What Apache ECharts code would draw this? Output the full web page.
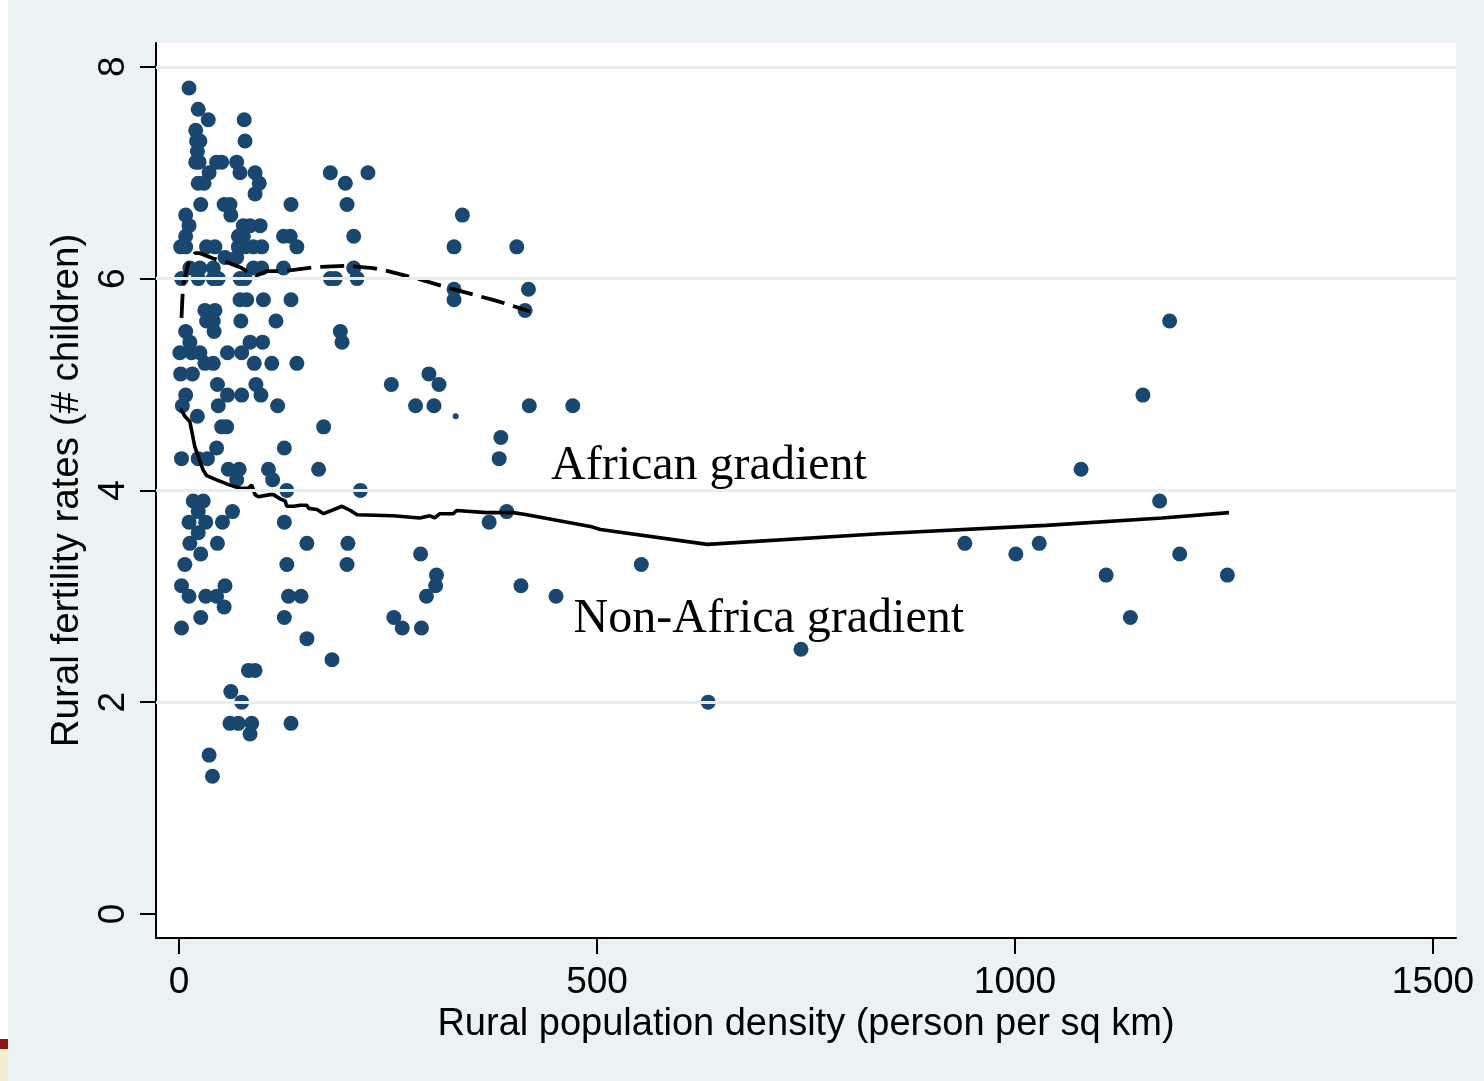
<!DOCTYPE html>
<html>
<head>
<meta charset="utf-8">
<title>Rural fertility and rural population density</title>
<script src="https://cdn.jsdelivr.net/npm/echarts@6/dist/echarts.min.js"></script>
<style>
  html, body { margin: 0; padding: 0; background: #fff; }
  #main { width: 1484px; height: 1081px; }
</style>
</head>
<body>
<div id="main"></div>
<script>
// one dot per country: [rural population density, rural fertility rate]
const countries = [
  [12, 7.8], [23, 7.6], [35, 7.5], [78, 7.5], [20, 7.4], [21, 7.3], [25, 7.3], [79, 7.3], [22, 7.2],
  [20, 7.1], [24, 7.1], [45, 7.1], [51, 7.1], [69, 7.1],
  [36, 7.0], [73, 7.0], [91, 7.0], [181, 7.0], [226, 7.0],
  [23, 6.9], [30, 6.9], [96, 6.9], [199, 6.9],
  [91, 6.8],
  [26, 6.7], [54, 6.7], [61, 6.7], [134, 6.7], [201, 6.7],
  [8, 6.6], [62, 6.6], [339, 6.6],
  [12, 6.5], [77, 6.5], [85, 6.5], [97, 6.5],
  [8, 6.4], [71, 6.4], [77, 6.4], [125, 6.4], [133, 6.4], [209, 6.4],
  [2, 6.3], [8, 6.3], [33, 6.3], [43, 6.3], [71, 6.3], [79, 6.3], [89, 6.3], [99, 6.3], [141, 6.3], [329, 6.3], [404, 6.3],
  [55, 6.2], [69, 6.2],
  [13, 6.1], [25, 6.1], [41, 6.1], [89, 6.1], [99, 6.1], [125, 6.1], [209, 6.1],
  [3, 6.0], [23, 6.0], [41, 6.0], [47, 6.0], [73, 6.0], [79, 6.0], [181, 6.0], [187, 6.0], [213, 6.0],
  [329, 5.9], [418, 5.9],
  [73, 5.8], [81, 5.8], [101, 5.8], [134, 5.8], [329, 5.8],
  [31, 5.7], [43, 5.7], [414, 5.7],
  [33, 5.6], [41, 5.6], [74, 5.6], [116, 5.6], [1185, 5.6],
  [8, 5.5], [42, 5.5], [193, 5.5],
  [13, 5.4], [85, 5.4], [100, 5.4], [195, 5.4],
  [1, 5.3], [15, 5.3], [25, 5.3], [58, 5.3], [75, 5.3],
  [31, 5.2], [41, 5.2], [90, 5.2], [111, 5.2], [141, 5.2],
  [2, 5.1], [16, 5.1], [299, 5.1],
  [46, 5.0], [92, 5.0], [254, 5.0], [311, 5.0],
  [8, 4.9], [58, 4.9], [75, 4.9], [98, 4.9], [1153, 4.9],
  [4, 4.8], [47, 4.8], [118, 4.8], [283, 4.8], [305, 4.8], [419, 4.8], [471, 4.8],
  [22, 4.7],
  [51, 4.6], [57, 4.6], [173, 4.6],
  [385, 4.5],
  [45, 4.4], [126, 4.4],
  [3, 4.3], [23, 4.3], [34, 4.3], [383, 4.3],
  [59, 4.2], [72, 4.2], [107, 4.2], [167, 4.2], [1079, 4.2],
  [69, 4.1], [112, 4.1],
  [129, 4.0], [217, 4.0],
  [17, 3.9], [29, 3.9], [1173, 3.9],
  [23, 3.8], [64, 3.8], [392, 3.8],
  [12, 3.7], [32, 3.7], [52, 3.7], [126, 3.7], [371, 3.7],
  [23, 3.6],
  [13, 3.5], [46, 3.5], [153, 3.5], [202, 3.5], [940, 3.5], [1029, 3.5],
  [26, 3.4], [289, 3.4], [1001, 3.4], [1197, 3.4],
  [7, 3.3], [129, 3.3], [201, 3.3], [553, 3.3],
  [308, 3.2], [1109, 3.2], [1254, 3.2],
  [3, 3.1], [55, 3.1], [307, 3.1], [409, 3.1],
  [12, 3.0], [32, 3.0], [45, 3.0], [131, 3.0], [146, 3.0], [296, 3.0], [451, 3.0],
  [54, 2.9],
  [26, 2.8], [126, 2.8], [257, 2.8], [1138, 2.8],
  [3, 2.7], [267, 2.7], [290, 2.7],
  [153, 2.6],
  [744, 2.5],
  [183, 2.4],
  [83, 2.3], [91, 2.3],
  [62, 2.1],
  [75, 2.0], [633, 2.0],
  [61, 1.8], [71, 1.8], [87, 1.8], [134, 1.8],
  [85, 1.7],
  [36, 1.5],
  [40, 1.3]
];
// the one tiny dot
const smallDots = [[331, 4.7]];

// smoothed gradients
const africaCurve = [
  [3, 5.63], [4, 5.80], [5, 5.94], [11, 6.14], [19, 6.24], [25, 6.24], [41, 6.19], [59, 6.15],
  [75, 6.10], [81, 6.07], [93, 6.03], [99, 6.05], [105, 6.07], [123, 6.07], [135, 6.08],
  [165, 6.11], [200, 6.12], [232, 6.10], [250, 6.07], [285, 6.00], [328, 5.90], [380, 5.79], [420, 5.69]
];
const nonAfricaCurve = [
  [2, 4.77], [7, 4.70], [13, 4.65], [19, 4.41], [29, 4.19], [33, 4.14], [45, 4.10], [61, 4.05],
  [73, 4.02], [83, 4.02], [87, 4.05], [91, 3.96], [95, 3.94], [109, 3.96], [113, 3.96], [121, 3.92],
  [127, 3.90], [129, 3.85], [137, 3.85], [145, 3.86], [153, 3.86], [155, 3.83], [165, 3.82],
  [173, 3.78], [195, 3.85], [205, 3.81], [213, 3.77], [256, 3.76], [288, 3.74], [300, 3.76],
  [306, 3.74], [312, 3.78], [328, 3.78], [332, 3.81], [368, 3.79], [400, 3.79], [416, 3.77],
  [492, 3.66], [504, 3.63], [632, 3.49], [838, 3.59], [1037, 3.67], [1176, 3.74], [1256, 3.79]
];

const xTicks = [0, 500, 1000, 1500];
const yTicks = [0, 2, 4, 6, 8];
const gridLines = [2, 4, 6, 8];

// text notes, placed at data coords (left edge, middle)
const noteNames = ['African gradient', 'Non-Africa gradient'];
const notePos = [[445, 4.23], [472, 2.78]];

const navy = '#1a476f';
const sans = 'Liberation Sans';

var chart = echarts.init(document.getElementById('main'));

var option = {
  animation: false,
  backgroundColor: '#eaf2f3',
  grid: {
    left: 156, top: 43, right: 28, bottom: 143,
    show: true, backgroundColor: '#fff', borderWidth: 0
  },
  xAxis: {
    type: 'value',
    min: -27.5,
    max: 1527.5,
    axisLine: { show: true, onZero: false, lineStyle: { color: '#000', width: 2 } },
    axisTick: { show: true, length: 16, customValues: xTicks, lineStyle: { color: '#000', width: 2 } },
    axisLabel: {
      customValues: xTicks, color: '#000', fontSize: 37, fontFamily: sans, margin: 26,
      formatter: v => String(v)
    },
    splitLine: { show: false },
    name: 'Rural population density (person per sq km)',
    nameLocation: 'middle',
    nameGap: 59,
    nameTextStyle: { color: '#000', fontSize: 38, fontFamily: sans }
  },
  yAxis: {
    type: 'value',
    min: -0.227,
    max: 8.225,
    axisLine: { show: true, onZero: false, lineStyle: { color: '#000', width: 2 } },
    axisTick: { show: true, length: 16, customValues: yTicks, lineStyle: { color: '#000', width: 2 } },
    axisLabel: {
      customValues: yTicks, rotate: 90, color: '#000', fontSize: 37, fontFamily: sans, margin: 24,
      formatter: v => String(v)
    },
    splitLine: { show: false },
    name: 'Rural fertility rates (# children)',
    nameLocation: 'middle',
    nameRotate: 90,
    nameGap: 60,
    nameTextStyle: { color: '#000', fontSize: 38.5, fontFamily: sans }
  },
  series: [
    {
      // light grid lines behind everything
      type: 'line',
      data: [],
      z: 1,
      silent: true,
      markLine: {
        silent: true,
        symbol: 'none',
        label: { show: false },
        lineStyle: { color: '#e6eef0', width: 3, type: 'solid' },
        data: gridLines.map(v => ({ yAxis: v }))
      }
    },
    {
      type: 'scatter',
      data: countries,
      symbolSize: 15,
      itemStyle: { color: navy, opacity: 1 },
      z: 2
    },
    {
      type: 'scatter',
      data: smallDots,
      symbolSize: 6,
      itemStyle: { color: navy, opacity: 1 },
      z: 2
    },
    {
      type: 'line',
      data: africaCurve,
      showSymbol: false,
      symbol: 'none',
      lineStyle: { color: '#000', width: 3.8, type: [24, 9] },
      z: 3
    },
    {
      type: 'line',
      data: nonAfricaCurve,
      showSymbol: false,
      symbol: 'none',
      lineStyle: { color: '#000', width: 3.6 },
      z: 3
    }
  ]
};
chart.setOption(option);

// notes + the white strip / corner bits on the left edge
var notes = noteNames.map((t, i) => {
  var p = chart.convertToPixel({ gridIndex: 0 }, notePos[i]);
  return {
    type: 'text',
    x: p[0], y: p[1], z: 10,
    style: { text: t, fill: '#000', font: '48px "Liberation Serif"', textAlign: 'left', textVerticalAlign: 'middle' }
  };
});
chart.setOption({
  graphic: notes.concat([
    { type: 'rect', shape: { x: 0, y: 0, width: 8, height: 1081 }, style: { fill: '#fff' } },
    { type: 'rect', shape: { x: 0, y: 1039, width: 8, height: 10 }, style: { fill: '#8b1414' } },
    { type: 'rect', shape: { x: 0, y: 1049, width: 8, height: 32 }, style: { fill: '#f6eed3' } }
  ])
});
</script>
</body>
</html>
